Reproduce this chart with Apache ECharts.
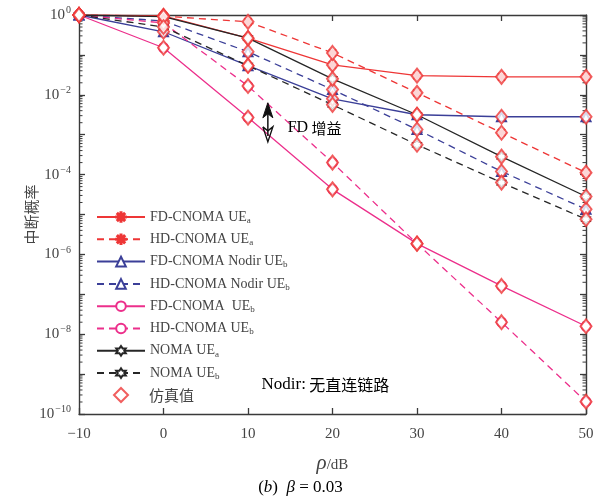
<!DOCTYPE html>
<html>
<head>
<meta charset="utf-8">
<script src="https://cdn.jsdelivr.net/npm/echarts@6/dist/echarts.min.js"></script>
<style>html,body{margin:0;padding:0;background:#fff}#c{width:601px;height:503px}</style>
</head>
<body>
<div id="c"></div>
<script>
// ---- data ----
const snr = [-10, 0, 10, 20, 30, 40, 50];
const fdUEa      = [1.0, 0.955, 0.263, 0.0562, 0.0302, 0.0282, 0.0282];
const hdUEa      = [1.0, 0.933, 0.676, 0.112, 0.0112, 1.12e-3, 1.12e-4];
const fdNodirUEb = [1.0, 0.380, 0.0537, 7.94e-3, 3.16e-3, 2.82e-3, 2.82e-3];
const hdNodirUEb = [1.0, 0.708, 0.120, 0.0135, 1.35e-3, 1.20e-4, 1.35e-5];
const fdUEb      = [1.0, 0.151, 2.69e-3, 4.27e-5, 1.86e-6, 1.62e-7, 1.58e-8];
const hdUEb      = [1.0, 0.631, 0.0166, 2.0e-4, 1.86e-6, 2.0e-8, 2.04e-10];
const nomaUEa    = [1.0, 0.912, 0.263, 0.0251, 3.16e-3, 2.82e-4, 2.82e-5];
const nomaUEb    = [1.0, 0.501, 0.0537, 5.62e-3, 5.62e-4, 6.31e-5, 7.59e-6];
const xTicks = [-10, 0, 10, 20, 30, 40, 50];
const yLabelExps = [0, -2, -4, -6, -8, -10];

const names = ['FD-CNOMA UEa','HD-CNOMA UEa','FD-CNOMA Nodir UEb','HD-CNOMA Nodir UEb',
  'FD-CNOMA  UEb','HD-CNOMA UEb','NOMA UEa','NOMA UEb'];
const simName = '仿真值';

const RED = '#ee3636', BLUE = '#3b3f98', PINK = '#ec2f8b', BLACK = '#262626';
const SERIF = '"Liberation Serif","DejaVu Serif",serif';
const CJK = '"Noto Sans CJK SC","Liberation Serif",serif';

const asterisk = 'path://M4.45,0L5.55,0L5.55,10L4.45,10ZM0,4.45L10,4.45L10,5.55L0,5.55ZM1.0,1.8L1.8,1.0L9.0,8.2L8.2,9.0ZM8.2,1.0L9.0,1.8L1.8,9.0L1.0,8.2Z';
const hexagram = 'path://M5,0L6.44,2.5L9.33,2.5L7.89,5L9.33,7.5L6.44,7.5L5,10L3.56,7.5L0.67,7.5L2.11,5L0.67,2.5L3.56,2.5Z';

function pts(arr){ return snr.map((x,i)=>[x, arr[i]]); }

function lineSeries(name, arr, color, dashed, symbol, opts){
  return {
    name, type:'line', data: pts(arr), z: 3,
    symbol, symbolSize: 9, showSymbol: true,
    lineStyle: {color, width: 1.3, type: dashed ? [7,5] : 'solid'},
    itemStyle: Object.assign({color, borderColor: color, borderWidth: 1.1}, opts || {}),
    emphasis: {disabled: true}
  };
}

const allSeriesArrays = [fdUEa, hdUEa, fdNodirUEb, hdNodirUEb, fdUEb, hdUEb, nomaUEa, nomaUEb];
const simData = [];
allSeriesArrays.forEach(a => pts(a).forEach(p => simData.push(p)));

// minor tick positions on a log axis (2..9 x 10^n)
const minorTickVals = [];
for (let e = -10; e < 0; e++) for (let k = 2; k <= 9; k++) minorTickVals.push(k * Math.pow(10, e));

const chart = echarts.init(document.getElementById('c'), null, {renderer:'canvas'});

function subFmt(name){
  if (name === simName) return '{c|' + simName + '}';
  const m = name.match(/^(.*UE)([ab])$/);
  if (m) return '{t|' + m[1] + '}{s|' + m[2] + '}';
  return '{t|' + name + '}';
}
const legendRich = {
  t: {fontFamily: SERIF, fontSize: 14, color: '#444'},
  s: {fontFamily: SERIF, fontSize: 9, color: '#444', padding: [7,0,0,0]},
  c: {fontFamily: CJK, fontSize: 15, color: '#444', padding: [0,0,0,16]}
};

const axisCol = '#3a3a3a';
const option = {
  animation: false,
  backgroundColor: '#fff',
  grid: {left: 79, right: 15, top: 15, bottom: 89, containLabel: false},
  legend: [{
    data: names,
    orient: 'vertical', left: 91, top: 205,
    itemWidth: 48, itemHeight: 12, itemGap: 7.3,
    formatter: subFmt,
    textStyle: {color: '#444', fontFamily: SERIF, fontSize: 14, rich: legendRich},
    selectedMode: false
  }, {
    data: [simName],
    orient: 'vertical', left: 108, top: 382,
    itemWidth: 14, itemHeight: 14,
    formatter: subFmt,
    textStyle: {color: '#444', fontFamily: CJK, fontSize: 15, rich: legendRich},
    selectedMode: false
  }],
  xAxis: [{
    type: 'value', min: -10, max: 50, interval: 10,
    axisLine: {onZero: false, lineStyle: {color: axisCol, width: 1.4}},
    axisTick: {inside: true, length: 6, lineStyle: {color: axisCol, width: 1.3}},
    axisLabel: {color: '#444', fontFamily: SERIF, fontSize: 15, margin: 13,
      formatter: v => (v < 0 ? '\u2212' + Math.abs(v) : String(v))},
    splitLine: {show: false},
    name: '{r|ρ}{d|/dB}', nameLocation: 'middle', nameGap: 39,
    nameTextStyle: {rich: {
      r: {fontFamily: SERIF, fontStyle: 'italic', fontSize: 21, color: '#444'},
      d: {fontFamily: SERIF, fontSize: 15, color: '#444', padding: [4,0,0,0]}
    }}
  }, {
    type: 'value', min: -10, max: 50, interval: 10, position: 'top',
    axisLine: {onZero: false, lineStyle: {color: axisCol, width: 1.4}},
    axisTick: {inside: true, length: 6, lineStyle: {color: axisCol, width: 1.3}},
    axisLabel: {show: false}, splitLine: {show: false}
  }],
  yAxis: [{
    type: 'log', logBase: 10, min: 1e-10, max: 1, interval: 1, position: 'left',
    axisLine: {show: true, onZero: false, lineStyle: {color: axisCol, width: 1.4}},
    axisTick: {show: true, inside: true, length: 6, lineStyle: {color: axisCol, width: 1.3}},
    axisLabel: {
      color: '#444', fontFamily: SERIF, margin: 8,
      formatter: v => {
        const e = Math.round(Math.log10(v));
        if (yLabelExps.indexOf(e) < 0) return '';
        return '{b|10}{p|' + (e < 0 ? '\u2212' + (-e) : e) + '}';
      },
      rich: {
        b: {fontFamily: SERIF, fontSize: 15, color: '#444'},
        p: {fontFamily: SERIF, fontSize: 10, color: '#444', padding: [0,0,9,1]}
      }
    },
    splitLine: {show: false},
    name: '中断概率', nameLocation: 'middle', nameRotate: 90, nameGap: 40, nameMoveOverlap: false,
    nameTextStyle: {fontFamily: CJK, fontSize: 15, color: '#444'}
  }, {
    type: 'log', logBase: 10, min: 1e-10, max: 1, interval: 1, position: 'right',
    axisLine: {show: true, onZero: false, lineStyle: {color: axisCol, width: 1.4}},
    axisTick: {show: true, inside: true, length: 6, lineStyle: {color: axisCol, width: 1.3}},
    axisLabel: {show: false}, splitLine: {show: false}
  }],
  series: [
    lineSeries(names[0], fdUEa, RED, false, asterisk),
    lineSeries(names[1], hdUEa, RED, true, asterisk),
    lineSeries(names[2], fdNodirUEb, BLUE, false, 'emptyTriangle'),
    lineSeries(names[3], hdNodirUEb, BLUE, true, 'emptyTriangle'),
    lineSeries(names[4], fdUEb, PINK, false, 'emptyCircle'),
    lineSeries(names[5], hdUEb, PINK, true, 'emptyCircle'),
    lineSeries(names[6], nomaUEa, BLACK, false, hexagram, {color: '#fff'}),
    lineSeries(names[7], nomaUEb, BLACK, true, hexagram, {color: '#fff'}),
    {
      name: simName, type: 'scatter', data: simData, z: 5,
      symbol: 'emptyDiamond', symbolSize: [11, 14],
      itemStyle: {color: RED, borderColor: RED, borderWidth: 1.4},
      emphasis: {disabled: true}
    },
    {
      name: 'minorTicks', type: 'custom', data: minorTickVals.map(v => [-10, v]), z: 2, silent: true,
      renderItem: (params, api) => {
        const v = api.value(1);
        const p = api.coord([-10, v]);
        const q = api.coord([50, v]);
        const st = {stroke: axisCol, lineWidth: 1};
        return {type: 'group', children: [
          {type: 'line', shape: {x1: p[0], y1: p[1], x2: p[0] + 3.5, y2: p[1]}, style: st},
          {type: 'line', shape: {x1: q[0] - 3.5, y1: q[1], x2: q[0], y2: q[1]}, style: st}
        ]};
      }
    }
  ]
};
chart.setOption(option);

// annotations positioned via the chart's own coordinate conversion
const cv = p => chart.convertToPixel({xAxisIndex: 0, yAxisIndex: 0}, p);
const a1 = cv([12.35, Math.pow(10, -2.2)]);
const a2 = cv([12.35, Math.pow(10, -3.18)]);
const t1 = cv([14.7, Math.pow(10, -2.83)]);
const t2 = cv([11.6, Math.pow(10, -9.27)]);
const ax = a1[0], yt = a1[1], yb = a2[1];
chart.setOption({
  graphic: [
    {type: 'line', shape: {x1: ax, y1: yt + 8, x2: ax, y2: yb - 6}, style: {stroke: '#111', lineWidth: 1.5}, z: 10},
    {type: 'polygon', shape: {points: [[ax, yt], [ax - 5, yt + 15], [ax, yt + 11], [ax + 5, yt + 15]]}, style: {fill: '#111', stroke: '#111', lineWidth: 1}, z: 10},
    {type: 'polyline', shape: {points: [[ax - 5, yb - 15], [ax, yb], [ax + 5, yb - 15], [ax, yb - 11], [ax - 5, yb - 15]]}, style: {fill: null, stroke: '#111', lineWidth: 1.4}, z: 10},
    {type: 'text', x: t1[0], y: t1[1], style: {text: '{a|FD} {b|增益}', verticalAlign: 'middle', rich: {
      a: {fontFamily: SERIF, fontSize: 16, color: '#444'},
      b: {fontFamily: CJK, fontSize: 15, color: '#444'}
    }}, z: 10},
    {type: 'text', x: t2[0], y: t2[1], style: {text: '{a|Nodir:} {b|无直连链路}', verticalAlign: 'middle', rich: {
      a: {fontFamily: SERIF, fontSize: 17, color: '#444'},
      b: {fontFamily: CJK, fontSize: 16, color: '#444'}
    }}, z: 10},
    {type: 'text', left: 'center', top: 479, style: {text: '{a|(}{i|b}{a|)  }{i|β}{a| = 0.03}', rich: {
      a: {fontFamily: SERIF, fontSize: 17, color: '#333'},
      i: {fontFamily: SERIF, fontStyle: 'italic', fontSize: 17, color: '#333'}
    }}, z: 10}
  ]
});
</script>
</body>
</html>
